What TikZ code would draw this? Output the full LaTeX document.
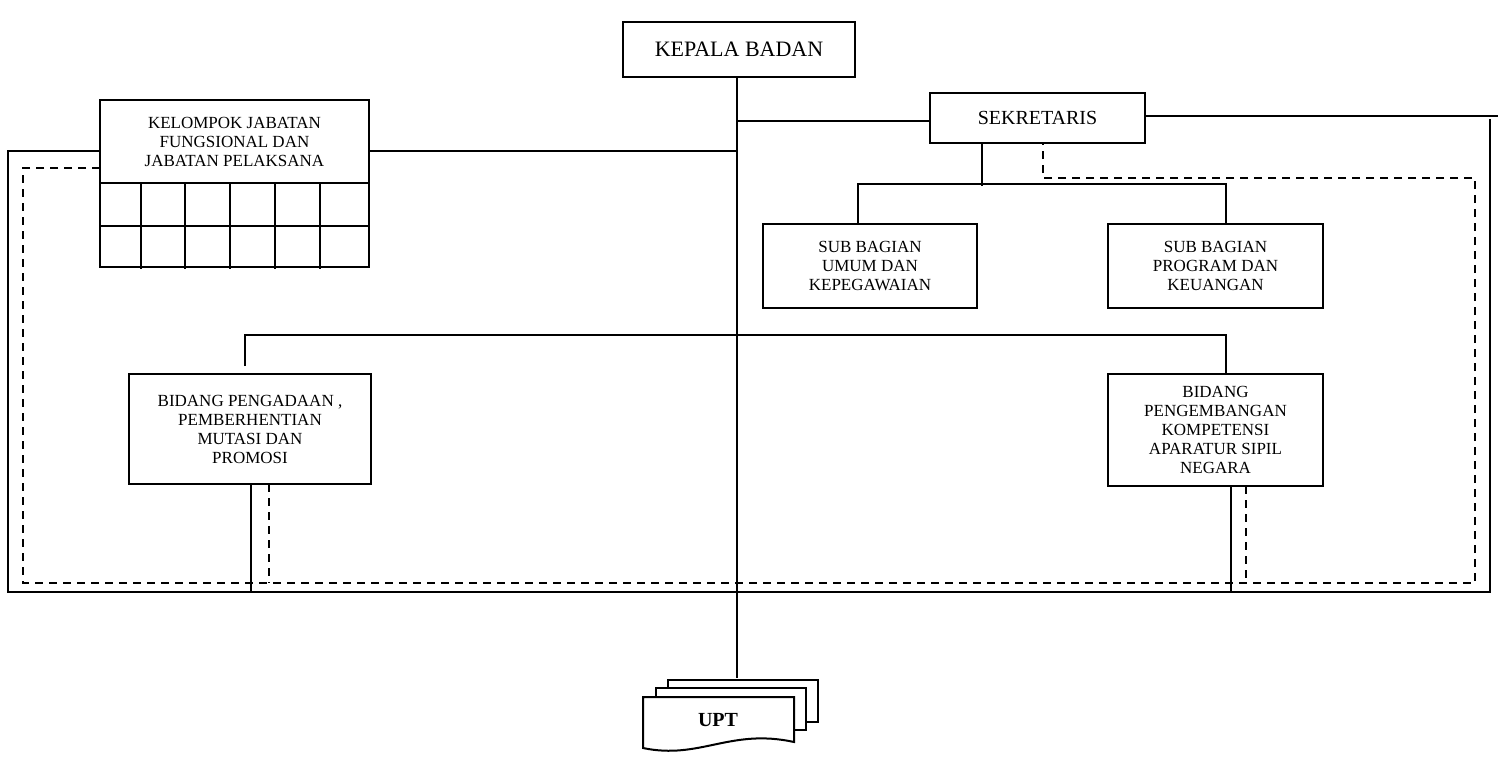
\documentclass[tikz,border=0pt]{standalone}
\usepackage{fontspec}
\setmainfont{Liberation Serif}
\begin{document}
\begin{tikzpicture}[x=0.5pt,y=-0.5pt,
  ln/.style={line width=1pt},
  dl/.style={line width=1pt,dash pattern=on 4pt off 3pt},
  box/.style={draw,line width=1pt,fill=white,align=center,inner sep=0pt},
  t/.style={font=\fontsize{8.5}{9.5}\selectfont,align=center}]
\useasboundingbox (0,0) rectangle (1502,760);
% main trunk
\coordinate (k0) at (737,77); \coordinate (k1) at (737,678);
\draw[ln] (k0) -- (k1);
% outer solid frame
\coordinate (s1) at (1145,116); \coordinate (s2) at (1498,116);
\draw[line width=0.6pt] (s1) -- (s2);
\draw[ln] (1490,119) -- (1490,592) -- (8,592) -- (8,151) -- (100,151);
% dashed frame
\draw[dl] (100,168) -- (23,168) -- (23,583) -- (1475,583) -- (1475,178) -- (1043,178) -- (1043,143);
% connections
\draw[ln] (369,151) -- (737,151);
\draw[ln] (737,121) -- (930,121);
\draw[ln] (982,143) -- (982,186);
\draw[ln] (858,224) -- (858,184) -- (1226,184) -- (1226,224);
\draw[ln] (245,366) -- (245,335) -- (1226,335) -- (1226,374);
\draw[ln] (251,484) -- (251,593);
\draw[dl] (269,484) -- (269,583);
\draw[ln] (1231,486) -- (1231,592);
\draw[dl] (1246,486) -- (1246,583);
% boxes
\node[box,minimum width=116pt,minimum height=27.5pt,font=\fontsize{11}{13}\selectfont] (kb) at (739,49.5) {KEPALA BADAN};
\node[box,minimum width=107.5pt,minimum height=25pt,font=\fontsize{10}{12}\selectfont] (sek) at (1037.5,118) {SEKRETARIS};
\node[box,minimum width=134.5pt,minimum height=41.5pt,t] (kel) at (234.5,141.5) {KELOMPOK JABATAN\\FUNGSIONAL DAN\\JABATAN PELAKSANA};
\draw[ln] (100,183) rectangle (369,267);
\draw[ln] (100,226) -- (369,226);
\foreach \x in {141,185,230,275,320} \draw[ln] (\x,183) -- (\x,269);
\node[box,minimum width=107pt,minimum height=42pt,t] (sb1) at (870,266) {SUB BAGIAN\\UMUM DAN\\KEPEGAWAIAN};
\node[box,minimum width=107.5pt,minimum height=42pt,t] (sb2) at (1215.5,266) {SUB BAGIAN\\PROGRAM DAN\\KEUANGAN};
\node[box,minimum width=121pt,minimum height=55pt,t] (b1) at (250,429) {BIDANG PENGADAAN ,\\PEMBERHENTIAN\\MUTASI DAN\\PROMOSI};
\node[box,minimum width=107.5pt,minimum height=56pt,t] (b2) at (1215.5,430) {BIDANG\\PENGEMBANGAN\\KOMPETENSI\\APARATUR SIPIL\\NEGARA};
% UPT stack
\draw[ln,fill=white] (668,680) rectangle (818,722);
\draw[ln,fill=white] (656,688) rectangle (806,730);
\draw[ln,fill=white] (643,697) -- (794,697) -- (794,742) .. controls (730,728) and (700,760) .. (643,748) -- cycle;
\node[font=\bfseries\fontsize{10}{12}\selectfont] (upt) at (718,720) {UPT};
\end{tikzpicture}
\end{document}
